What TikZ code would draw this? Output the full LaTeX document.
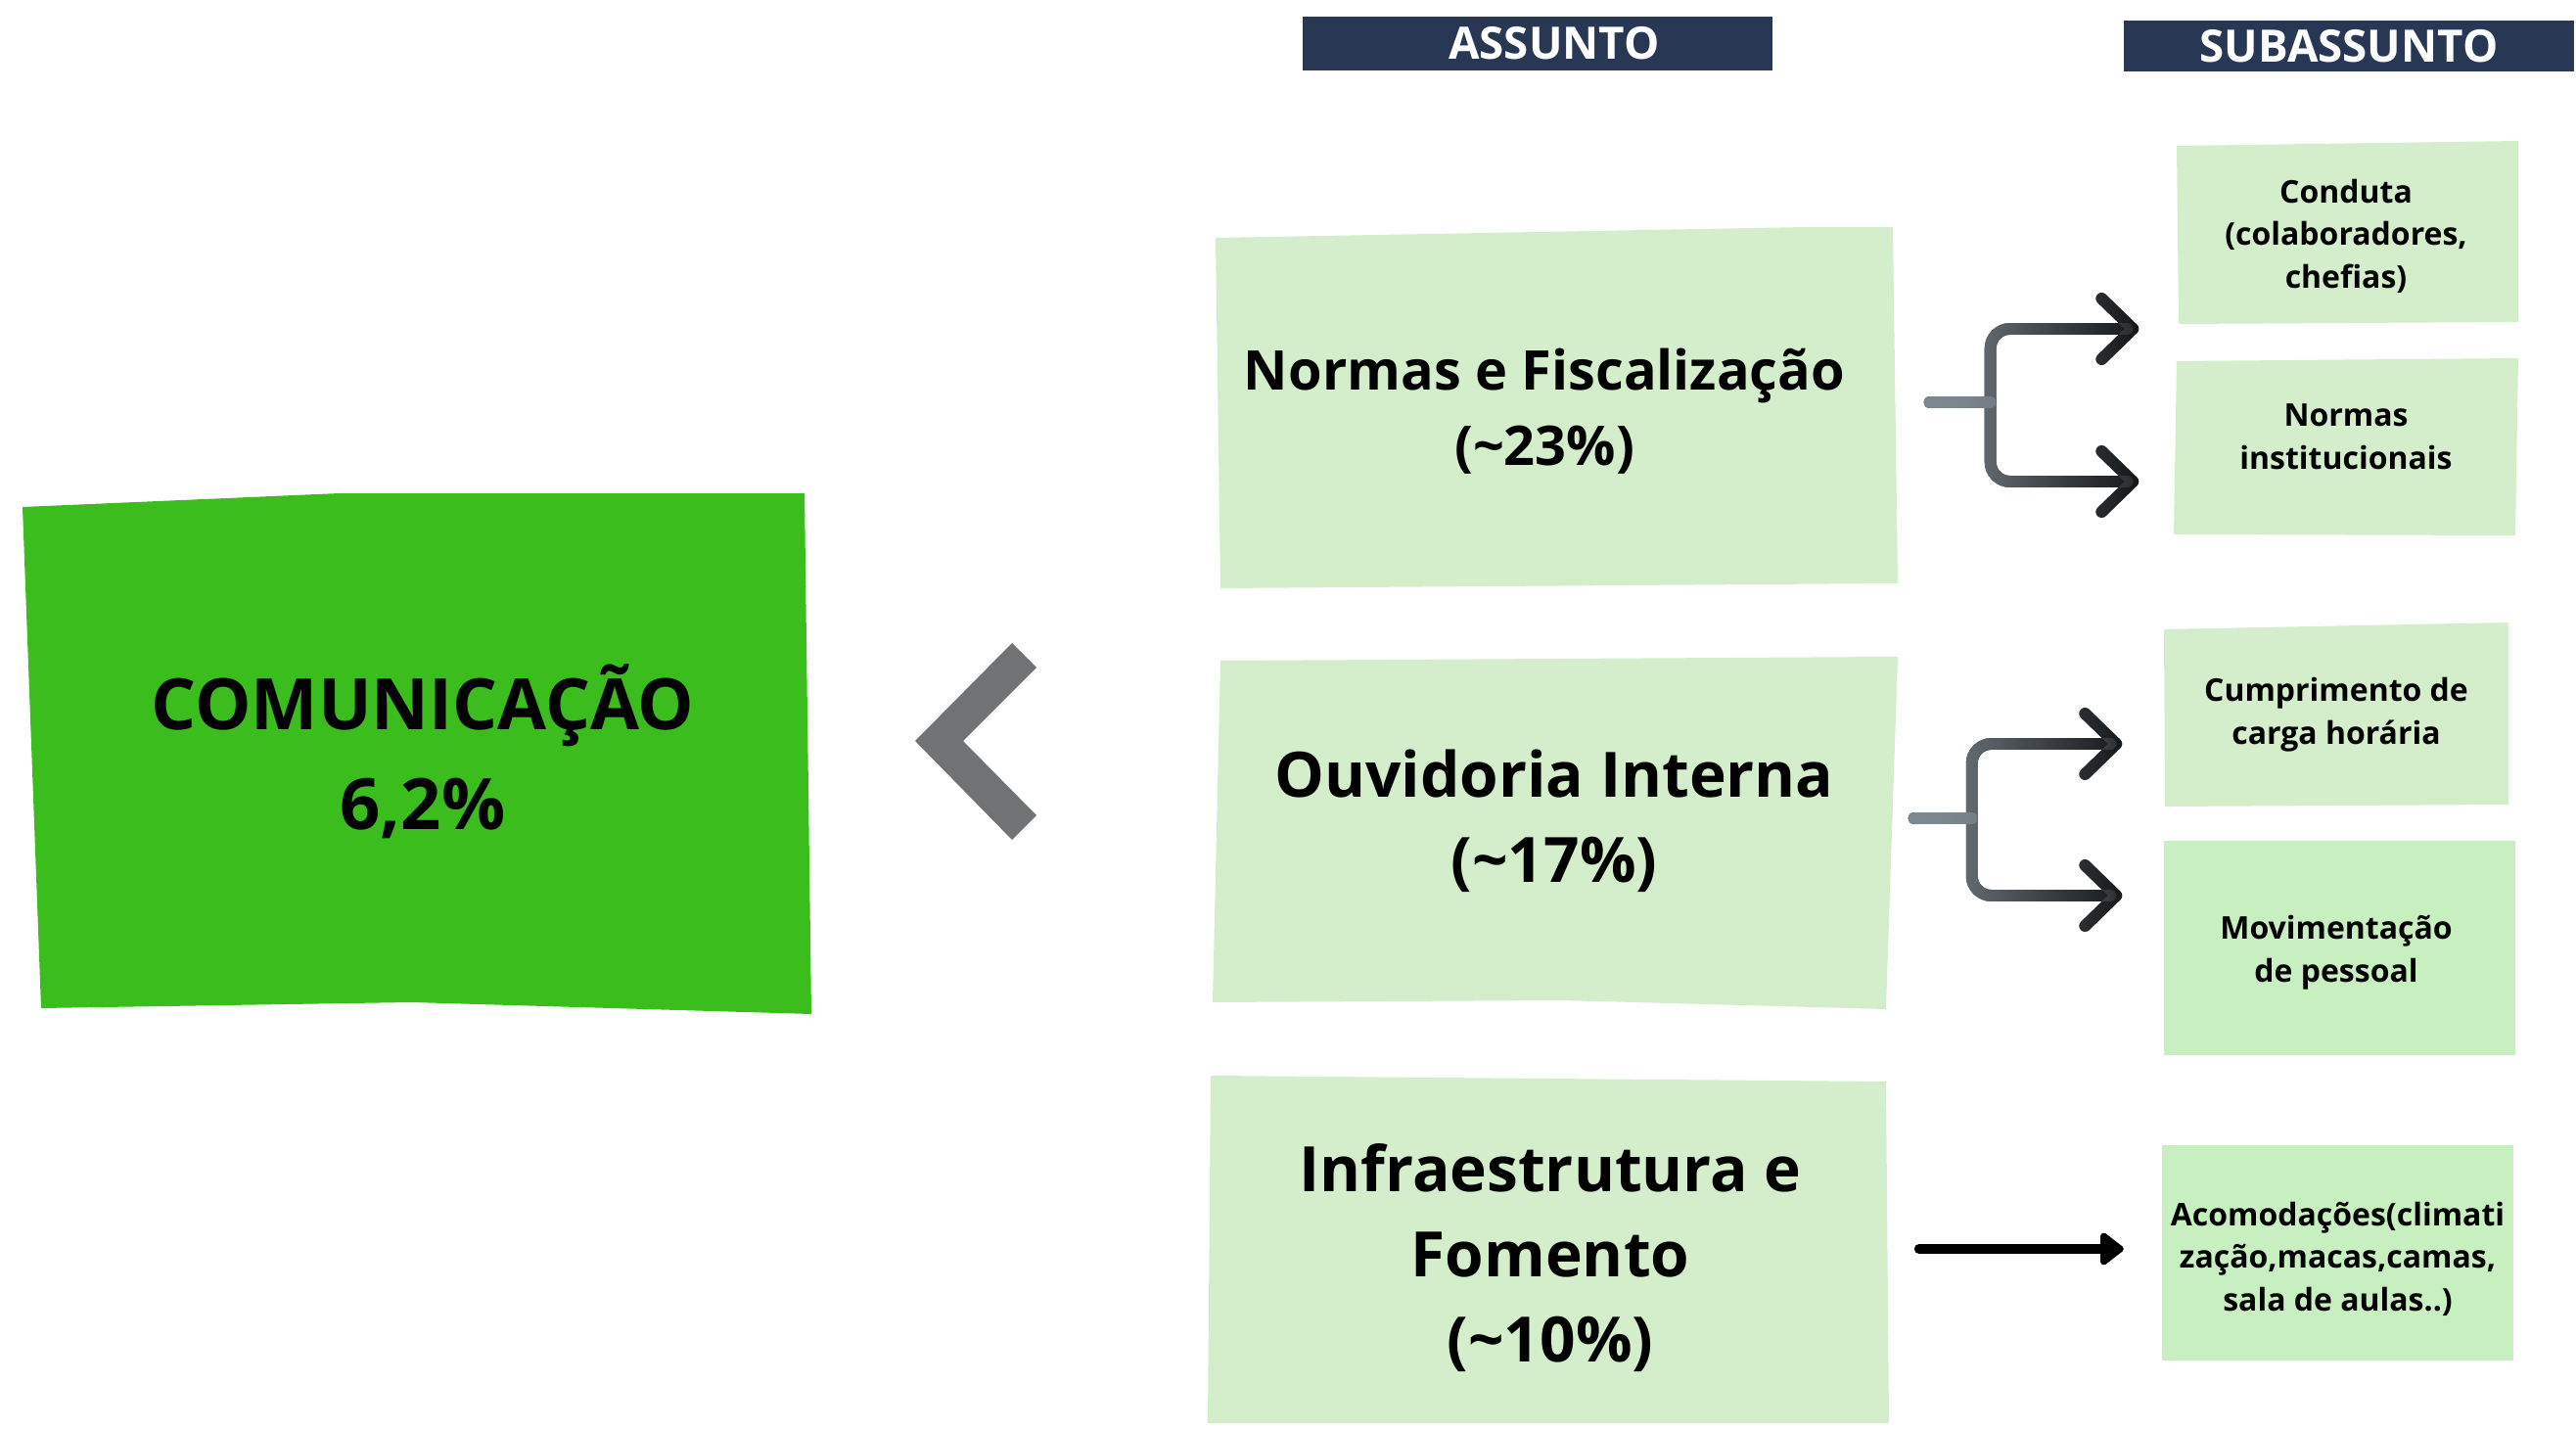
\documentclass[tikz,border=0pt]{standalone}
\usepackage{fontspec}
\setmainfont{Open Sans}
\usetikzlibrary{arrows.meta,fadings}

\definecolor{mainGreen}{HTML}{3BBE1D}
\definecolor{paleGreen}{HTML}{D4EDCB}
\definecolor{subGreen}{HTML}{C7EFBF}
\definecolor{headNavy}{HTML}{283754}
\definecolor{chevGray}{HTML}{717274}
\definecolor{stemGray}{HTML}{7E8891}

\tikzfading[name=fade right, left color=transparent!0, right color=transparent!100]

\begin{document}
\begin{tikzpicture}[
    % Styles
    header/.style={% For the column titles
        rectangle,
        fill=headNavy,
        text=white,
        inner sep=0pt,
        font=\fontsize{13}{16}\selectfont\bfseries,
        },
    mainbox/.style={% For the big green box
        rectangle,
        align=center,
        minimum width=8cm,
        minimum height=5.2cm,
        font=\fontsize{20.6}{29}\selectfont\bfseries,
        },
    subject/.style={% For the assunto boxes
        rectangle,
        align=center,
        minimum width=6.9cm,
        minimum height=3.5cm,
        font=\fontsize{18.2}{24.8}\selectfont\bfseries,
        },
    subtopic/.style={% For the subassunto boxes
        rectangle,
        align=center,
        inner sep=0pt,
        minimum width=3.5cm,
        minimum height=1.8cm,
        font=\fontsize{9.1}{12.4}\selectfont\bfseries,
        },
    Fork/.style={% Bracket arrows
        line width=3.4pt,
        rounded corners=2mm,
        line cap=round,
        -{Straight Barb[length=3.2mm,width=6.2mm,round]},
        },
    Shade/.style={% Grey start of the bracket arrows
        draw=stemGray,
        path fading=fade right,
        },
    Plain/.style={% Straight arrow
        line width=2.8pt,
        line cap=round,
        -{Triangle[length=2.6mm,width=3.8mm,round]},
        },
    ]

    \useasboundingbox (0,0) rectangle (26.32,14.60);

    % Draw the boxes
    \fill[mainGreen] (0.23,9.42) -- (3.47,9.56) -- (8.22,9.56) -- (8.29,4.24) -- (4.20,4.36) -- (0.42,4.30) -- cycle;
    \fill[paleGreen] (12.42,12.17) -- (18.46,12.28) -- (19.34,12.28) -- (19.39,8.64) -- (12.47,8.59) -- cycle;
    \fill[paleGreen] (12.47,7.85) -- (19.39,7.89) -- (19.27,4.29) -- (15.95,4.38) -- (12.39,4.36) -- cycle;
    \fill[paleGreen] (12.37,3.61) -- (19.27,3.55) -- (19.30,0.06) -- (12.34,0.06) -- cycle;
    \fill[paleGreen] (22.24,13.11) -- (25.73,13.16) -- (25.73,11.31) -- (22.26,11.29) -- cycle;
    \fill[paleGreen] (22.24,10.91) -- (25.73,10.94) -- (25.70,9.13) -- (22.21,9.14) -- cycle;
    \fill[paleGreen] (22.11,8.17) -- (25.63,8.24) -- (25.63,6.38) -- (22.12,6.36) -- cycle;
    \fill[subGreen] (22.11,3.82) rectangle (25.70,6.01);
    \fill[subGreen] (22.09,0.70) rectangle (25.68,2.90);

    % Chevron
    \fill[chevGray] (10.34,8.03) -- (10.59,7.78) -- (9.84,7.03) -- (10.59,6.27) -- (10.34,6.02) -- (9.35,7.03) -- cycle;

    % Column titles
    \node[header, minimum width=4.8cm, minimum height=0.55cm] (hsubj) at (15.71,14.155) {\hspace*{0.34cm}ASSUNTO};
    \node[header, minimum width=4.6cm, minimum height=0.52cm] (htopic) at (24.00,14.13) {SUBASSUNTO};

    % Main box
    \node[mainbox] (comm) at (4.32,6.92) {COMUNICAÇÃO\\6,2\%};

    % Assunto
    \node[subject, font=\fontsize{15.9}{21.9}\selectfont\bfseries] (norm) at (15.78,10.40) {Normas e Fiscalização\\(\textasciitilde23\%)};
    \node[subject] (ouv) at (15.88,6.21) {Ouvidoria Interna\\(\textasciitilde17\%)};
    \node[subject] (infra) at (15.84,1.75) {Infraestrutura e\\Fomento\\(\textasciitilde10\%)};

    % Subassunto
    \node[subtopic] (cond) at (23.97,12.19) {Conduta\\(colaboradores,\\chefias)};
    \node[subtopic] (inst) at (23.97,10.14) {Normas\\institucionais};
    \node[subtopic] (cump) at (23.87,7.30) {Cumprimento de\\carga horária};
    \node[subtopic] (mov) at (23.87,4.87) {Movimentação\\de pessoal};
    \node[subtopic] (acom) at (23.885,1.74) {Acomodações(climati\\zação,macas,camas,\\sala de aulas..)};

    % Draw Arrows
    \coordinate (stem1) at ([xshift=4.8mm, yshift=0.9mm]norm.east);
    \coordinate (fork1) at ([xshift=11mm, yshift=0.9mm]norm.east);
    \coordinate (stem2) at ([xshift=2.2mm, yshift=0.3mm]ouv.east);
    \coordinate (fork2) at ([xshift=8.1mm, yshift=0.3mm]ouv.east);

    \draw[Fork, shorten >=3.6mm] (stem1) -- (fork1) (fork1) |- ([yshift=-9.5mm]cond.west);
    \draw[Fork, shorten >=3.6mm] (stem1) -- (fork1) (fork1) |- ([yshift=-4.6mm]inst.west);
    \draw[Fork, Shade, shorten >=3.6mm] (stem1) -- (fork1) (fork1) |- ([yshift=-9.5mm]cond.west);
    \draw[Fork, Shade, shorten >=3.6mm] (stem1) -- (fork1) (fork1) |- ([yshift=-4.6mm]inst.west);

    \draw[Fork, shorten >=4.3mm] (stem2) -- (fork2) (fork2) |- ([yshift=-3.0mm]cump.west);
    \draw[Fork, shorten >=4.3mm] (stem2) -- (fork2) (fork2) |- ([yshift=5.8mm]mov.west);
    \draw[Fork, Shade, shorten >=4.3mm] (stem2) -- (fork2) (fork2) |- ([yshift=-3.0mm]cump.west);
    \draw[Fork, Shade, shorten >=4.3mm] (stem2) -- (fork2) (fork2) |- ([yshift=5.8mm]mov.west);

    \draw[Plain, shorten <=3.1mm, shorten >=4.3mm] ([yshift=0.9mm]infra.east) -- ([yshift=0.9mm]infra.east -| acom.west);

\end{tikzpicture}
\end{document}
